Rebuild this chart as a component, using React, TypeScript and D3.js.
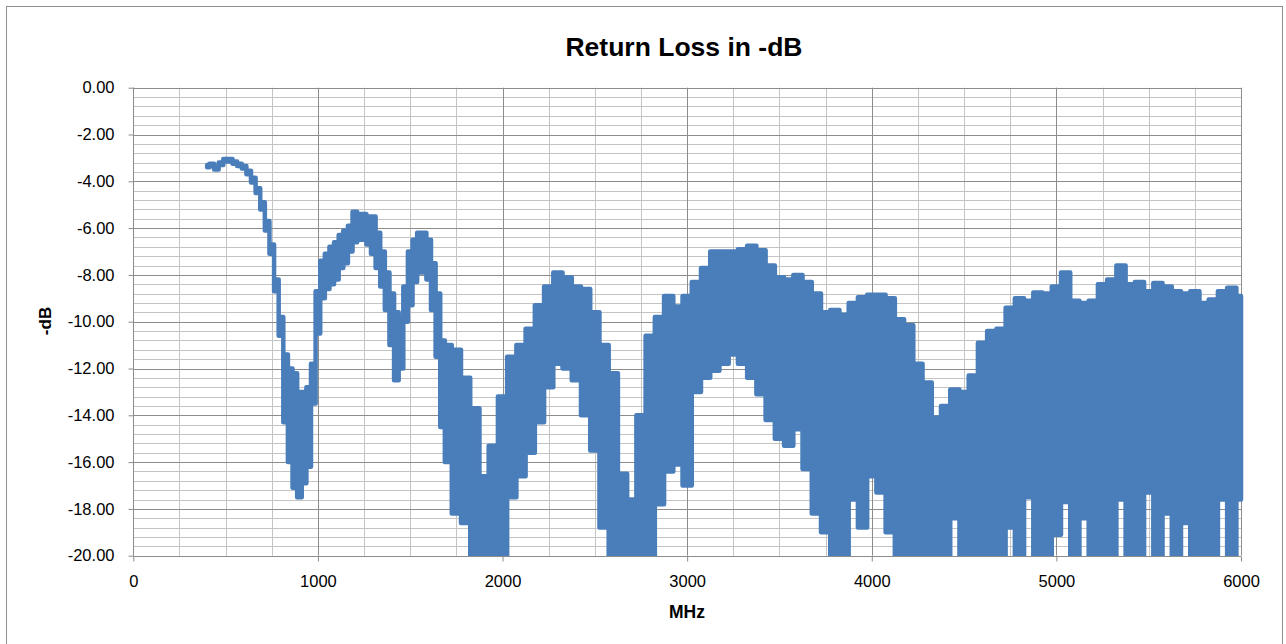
import { useEffect, useRef } from 'react'
import * as d3 from 'd3'

// Return loss trace (25 MHz spacing up to 1700 MHz,
// 50 MHz after). RL_HIGH = upper edge of the noisy trace, RL_LOW = lower edge (dB).
const FREQ_MHZ = [
  400, 425, 450, 475, 500, 525, 550, 575, 600, 625,
  650, 675, 700, 725, 750, 775, 800, 825, 850, 875,
  900, 925, 950, 975, 1000, 1025, 1050, 1075, 1100, 1125,
  1150, 1175, 1200, 1225, 1250, 1275, 1300, 1325, 1350, 1375,
  1400, 1425, 1450, 1475, 1500, 1525, 1550, 1575, 1600, 1625,
  1650, 1675, 1700, 1750, 1800, 1850,
  1900, 1950, 2000, 2050, 2100, 2150, 2200, 2250, 2300, 2350,
  2400, 2450, 2500, 2550, 2600, 2650, 2700, 2750, 2800, 2850,
  2900, 2950, 3000, 3050, 3100, 3150, 3200, 3250, 3300, 3350,
  3400, 3450, 3500, 3550, 3600, 3650, 3700, 3750, 3800, 3850,
  3900, 3950, 4000, 4050, 4100, 4150, 4200, 4250, 4300, 4350,
  4400, 4450, 4500, 4550, 4600, 4650, 4700, 4750, 4800, 4850,
  4900, 4950, 5000, 5050, 5100, 5150, 5200, 5250, 5300, 5350,
  5400, 5450, 5500, 5550, 5600, 5650, 5700, 5750, 5800, 5850,
  5900, 5950, 6000,
]

const RL_HIGH = [
  -3.3, -3.25, -3.4, -3.2, -3.05, -3.05, -3.15, -3.25, -3.35, -3.55,
  -3.85, -4.3, -4.9, -5.7, -6.7, -8.2, -9.8, -11.4, -12.0, -12.2,
  -13.0, -13.0, -12.8, -11.8, -8.7, -7.4, -7.1, -6.8, -6.6, -6.3,
  -6.1, -5.9, -5.3, -5.4, -5.4, -5.5, -5.5, -6.2, -7.0, -7.9,
  -8.8, -9.6, -9.8, -8.5, -7.0, -6.5, -6.2, -6.2, -6.5, -7.5,
  -8.8, -10.8, -11.0, -11.2, -12.4, -13.7,
  -16.6, -15.3, -13.2, -11.5, -11.0, -10.3, -9.3, -8.5, -7.9, -8.1,
  -8.5, -8.6, -9.6, -11.0, -12.2, -16.5, -17.6, -14.0, -10.6, -9.8,
  -8.9, -9.35, -8.9, -8.3, -7.7, -7.0, -7.0, -7.0, -6.9, -6.75,
  -6.95, -7.6, -8.1, -8.2, -8.0, -8.3, -8.8, -9.6, -9.5, -9.7,
  -9.2, -8.95, -8.85, -8.85, -9.0, -9.9, -10.15, -11.8, -12.6, -14.1,
  -13.6, -12.9, -13.0, -12.3, -10.9, -10.4, -10.3, -9.4, -9.0, -9.1,
  -8.75, -8.8, -8.5, -7.9, -9.1, -9.2, -9.1, -8.4, -8.2, -7.6,
  -8.4, -8.3, -8.7, -8.35, -8.5, -8.7, -8.8, -8.7, -9.2, -9.05,
  -8.7, -8.55, -8.9,
]

const RL_LOW = [
  -3.4, -3.35, -3.5, -3.3, -3.15, -3.15, -3.25, -3.35, -3.45, -3.7,
  -4.05, -4.5, -5.2, -6.1, -7.1, -8.7, -10.6, -14.3, -16.0, -17.1,
  -17.5, -16.9, -16.2, -13.5, -10.5, -9.0, -8.6, -8.4, -8.2, -7.7,
  -7.5, -7.0, -6.6, -6.5, -6.5, -6.7, -7.1, -7.7, -8.5, -9.5,
  -11.0, -12.5, -12.0, -10.0, -9.3, -8.3, -7.9, -7.9, -8.2, -9.5,
  -11.5, -14.5, -16.0, -18.2, -18.6, -20,
  -20, -20, -20, -17.5, -16.6, -15.6, -14.3, -12.8, -11.8, -12.0,
  -12.5, -14.0, -15.5, -18.8, -20, -20, -20, -20, -20, -17.8,
  -16.4, -16.1, -17.0, -13.0, -12.4, -12.1, -11.8, -11.4, -11.8, -12.4,
  -13.1, -14.2, -15.0, -15.3, -14.6, -16.3, -18.2, -19.0, -20, -20,
  -17.6, -18.8, -16.6, -17.3, -19.0, -20, -20, -20, -20, -20,
  -20, -18.4, -20, -20, -20, -20, -20, -18.8, -20, -17.5,
  -20, -20, -19.1, -17.7, -20, -18.4, -20, -20, -20, -17.6,
  -20, -20, -17.3, -20, -18.2, -20, -18.6, -20, -20, -20,
  -17.6, -20, -17.6,
]

const Y_TICKS = [0, -2, -4, -6, -8, -10, -12, -14, -16, -18, -20]
const X_TICKS = [0, 1000, 2000, 3000, 4000, 5000, 6000]
const Y_MINOR_STEP = 0.4
const X_MINOR_STEP = 250

const TRACE = '#4A7EBB'
const GRID_MAJOR = '#8C8C8C'
const GRID_MINOR = '#C4C4C4'
const FONT = '"Liberation Sans", Arial, sans-serif'

export default function App() {
  const svgRef = useRef<SVGSVGElement>(null)

  useEffect(() => {
    if (!svgRef.current) return
    const svg = d3.select(svgRef.current)
    svg.selectAll('*').remove()

    const W = 1286
    const H = 644
    const plot = { left: 133.3, right: 1241, top: 87.7, bottom: 555.7 }

    const x = d3.scaleLinear().domain([0, 6000]).range([plot.left, plot.right])
    const y = d3.scaleLinear().domain([-20, 0]).range([plot.bottom, plot.top])
    const crisp = (v: number) => Math.round(v) + 0.5

    svg.append('rect').attr('width', W).attr('height', H).attr('fill', '#fff')

    // chart frame
    svg.append('rect')
      .attr('x', 6.5).attr('y', 6.5).attr('width', 1276).attr('height', 700)
      .attr('fill', 'none').attr('stroke', '#8E8E8E')

    // Title
    svg.append('text')
      .attr('x', 684).attr('y', 56)
      .attr('text-anchor', 'middle').attr('font-family', FONT)
      .attr('font-size', '26.5px').attr('font-weight', 'bold').attr('fill', '#000')
      .text('Return Loss in -dB')

    const grid = svg.append('g')

    // minor grid
    const nY = Math.round(20 / Y_MINOR_STEP)
    for (let i = 0; i <= nY; i++) {
      const v = -20 + i * Y_MINOR_STEP
      if (Math.abs(v / 2 - Math.round(v / 2)) < 1e-6) continue
      grid.append('line')
        .attr('x1', plot.left).attr('x2', plot.right)
        .attr('y1', crisp(y(v))).attr('y2', crisp(y(v)))
        .attr('stroke', GRID_MINOR).attr('stroke-width', 1)
    }
    const nX = Math.round(6000 / X_MINOR_STEP)
    for (let i = 0; i <= nX; i++) {
      const f = i * X_MINOR_STEP
      if (f % 1000 === 0) continue
      grid.append('line')
        .attr('x1', crisp(x(f))).attr('x2', crisp(x(f)))
        .attr('y1', plot.top).attr('y2', plot.bottom)
        .attr('stroke', GRID_MINOR).attr('stroke-width', 1)
    }

    // major grid
    Y_TICKS.forEach((v) => {
      grid.append('line')
        .attr('x1', plot.left).attr('x2', plot.right)
        .attr('y1', crisp(y(v))).attr('y2', crisp(y(v)))
        .attr('stroke', GRID_MAJOR).attr('stroke-width', 1)
    })
    X_TICKS.forEach((f) => {
      grid.append('line')
        .attr('x1', crisp(x(f))).attr('x2', crisp(x(f)))
        .attr('y1', plot.top).attr('y2', plot.bottom)
        .attr('stroke', GRID_MAJOR).attr('stroke-width', 1)
    })

    // Trace — clipped at the plot frame like the spreadsheet does
    svg.append('clipPath').attr('id', 'plot-clip')
      .append('rect')
      .attr('x', plot.left - 8).attr('y', plot.top - 10)
      .attr('width', plot.right - plot.left + 11).attr('height', plot.bottom - plot.top + 10.5)

    const idx = FREQ_MHZ.map((_, i) => i)
    const area = d3.area<number>()
      .x((i) => x(FREQ_MHZ[i]))
      .y0((i) => y(RL_LOW[i]))
      .y1((i) => y(RL_HIGH[i]))
      .curve(d3.curveStep)

    svg.append('path')
      .attr('clip-path', 'url(#plot-clip)')
      .attr('d', area(idx))
      .attr('fill', TRACE).attr('stroke', TRACE)
      .attr('stroke-width', 4.5).attr('stroke-linejoin', 'round')

    // Y axis
    const yAxis = d3.axisLeft(y).tickValues(Y_TICKS).tickSize(5).tickPadding(14)
      .tickFormat((d) => (+d).toFixed(2))
    const gy = svg.append('g').attr('transform', `translate(${crisp(plot.left)},0)`).call(yAxis)
    gy.select('.domain').attr('stroke', GRID_MAJOR).attr('d', `M0,${plot.top}V${plot.bottom}`)
    gy.selectAll('.tick line').attr('stroke', GRID_MAJOR)
    gy.selectAll('.tick text').attr('font-family', FONT).attr('font-size', '16.5px').attr('fill', '#000')

    // X axis
    const xAxis = d3.axisBottom(x).tickValues(X_TICKS).tickSize(5).tickPadding(14)
      .tickFormat((d) => String(d))
    const gx = svg.append('g').attr('transform', `translate(0,${crisp(plot.bottom)})`).call(xAxis)
    gx.select('.domain').attr('stroke', GRID_MAJOR).attr('d', `M${plot.left},0H${plot.right}`)
    gx.selectAll('.tick line').attr('stroke', GRID_MAJOR)
    gx.selectAll('.tick text').attr('font-family', FONT).attr('font-size', '16.5px').attr('fill', '#000')

    // axis titles
    svg.append('text')
      .attr('transform', 'translate(51,321) rotate(-90)')
      .attr('text-anchor', 'middle').attr('font-family', FONT)
      .attr('font-size', '17px').attr('font-weight', 'bold').attr('fill', '#000')
      .text('-dB')

    svg.append('text')
      .attr('x', 687).attr('y', 618)
      .attr('text-anchor', 'middle').attr('font-family', FONT)
      .attr('font-size', '17.5px').attr('font-weight', 'bold').attr('fill', '#000')
      .text('MHz')
  }, [])

  return (
    <svg
      ref={svgRef}
      width={1286}
      height={644}
      style={{ position: 'absolute', left: 0, top: 0, display: 'block' }}
    />
  )
}
